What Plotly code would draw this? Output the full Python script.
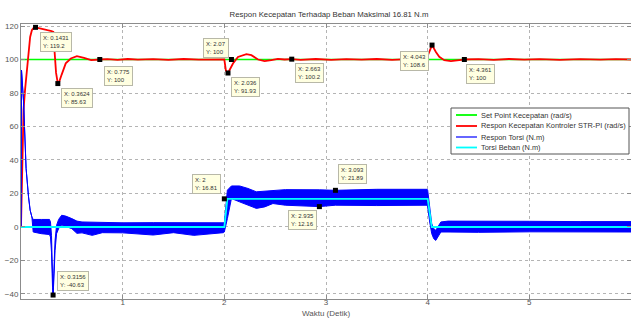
import plotly.graph_objects as go

# ---------------- data ----------------
setpoint_t = [0, 6]
setpoint_v = [100, 100]

speed_t = [0, 0.01, 0.025, 0.04, 0.058, 0.074, 0.09, 0.107, 0.125, 0.1431, 0.18, 0.22, 0.26,
           0.3, 0.318, 0.33, 0.345, 0.3624, 0.375, 0.4, 0.44, 0.49, 0.55, 0.62, 0.69, 0.775,
           0.85, 0.95, 1.05, 1.15, 1.3, 1.45, 1.6, 1.75, 1.9, 2.0,
           2.015, 2.036, 2.085, 2.134, 2.217, 2.266, 2.331, 2.396, 2.462, 2.527, 2.593, 2.663,
           2.75, 2.9, 3.05, 3.2, 3.35, 3.5, 3.65, 3.8, 3.985,
           4.015, 4.043, 4.081, 4.114, 4.163, 4.229, 4.31, 4.361,
           4.5, 4.65, 4.8, 4.95, 5.1, 5.3, 5.5, 5.7, 5.85, 6.0]
speed_v = [0, 35, 70, 82, 92, 103.6, 113.5, 117.5, 118.9, 119.2, 118.8, 118.0, 117.5,
           117.0, 116.5, 105, 92, 85.63, 86.5, 91, 97.7, 100.6, 102.0, 101.0, 99.6, 100,
           100.2, 99.8, 100.3, 99.9, 100.2, 99.8, 100.3, 99.9, 100.2, 100,
           93.5, 91.93, 97.6, 101.5, 103.2, 102.6, 100, 99, 99.6, 100.4, 100, 100.2,
           99.8, 100.3, 99.8, 100.2, 99.9, 100.3, 99.8, 100.2, 100,
           104, 108.6, 104.5, 101.6, 99.6, 99, 99.6, 100,
           100.2, 99.8, 100.3, 99.9, 100.2, 99.8, 100.2, 99.9, 100.2, 100]

torque_t = [0, 0.005, 0.025, 0.05, 0.074, 0.09, 0.107, 0.12, 0.2, 0.28, 0.29, 0.3, 0.31,
            0.3156, 0.322, 0.335, 0.35, 0.37, 0.4, 0.44, 0.5, 0.55, 0.6, 0.7, 0.8, 1.0, 1.3,
            1.5, 1.7, 1.99, 2.0, 2.03, 2.07, 2.15, 2.233, 2.315, 2.397, 2.478, 2.6, 2.935,
            3.093, 3.5, 3.995, 4.0, 4.02, 4.04, 4.06, 4.08, 4.1, 4.13, 4.2, 4.5, 5.0, 5.5, 6.0]
torque_upper = [0, 93.6, 75, 35, 18, 10, 6, 4.5, 4.5, 4.5, 3, -5, -28,
                -40.63, -28, -8, 1, 4.5, 7, 6.5, 5, 3.5, 3, 2.8, 2.6, 2.5, 2.6,
                2.5, 2.6, 2.5, 2.5, 22, 24.5, 24.5, 23, 21, 21.5, 22, 22.3, 22.2,
                21.89, 22.5, 22.5, 22, 10, 2, -1, -2, 0, 3, 3.5, 3.3, 3.4, 3.2, 3.2]
torque_lower = [0, 93.6, 75, 35, 18, 10, 6, -3, -4, -4.5, -6, -15, -36,
                -40.63, -33, -14, -4, -1, 1.2, 0.5, -1, -3.8, -3.5, -5, -3.4, -3.5, -4.8,
                -3.4, -5, -3.4, -3, 5, 17, 15, 13, 11.1, 12, 14, 13, 12.16,
                13, 12.8, 13, 12, 3, -4, -7, -8, -6, -3, -3, -3.2, -2.9, -3.1, -3]

load_t = [0, 2.0, 2.03, 4.0, 4.04, 6.0]
load_v = [0, 0, 16.81, 16.81, 0, 0]

tip_x = [0.1431, 0.3624, 0.775, 2.07, 2.036, 2.663, 4.043, 4.361, 0.3156, 2, 2.935, 3.093]
tip_y = [119.2, 85.63, 100, 100, 91.93, 100.2, 108.6, 100, -40.63, 16.81, 12.16, 21.89]

x_ticks = [1, 2, 3, 4, 5, 6]
y_ticks = [-40, -20, 0, 20, 40, 60, 80, 100, 120]

legend_names = ["Set Point Kecepatan (rad/s)",
                "Respon Kecepatan Kontroler STR-PI (rad/s)",
                "Respon Torsi (N.m)",
                "Torsi Beban (N.m)"]

# ---------------- styling (not data) ----------------
W, H = 631, 320
ML, MR, MT, MB = 21, 0, 24, 21
PW, PH = W - ML - MR, H - MT - MB


def px2x(px):
    return (px - ML) / PW


def px2y(py):
    return 1 - (py - MT) / PH


C_GREEN, C_RED, C_BLUE, C_CYAN = "#00ff00", "#ff0000", "#0000ff", "#00ffff"
legend_colors = [C_GREEN, C_RED, C_BLUE, C_CYAN]
legend_rows_px = [115, 126, 137, 147.5]

# (xanchor, yanchor, xshift, yshift) for each data tip box
tip_place = [("left", "top", 4, -5), ("left", "top", 3, -4), ("left", "top", 4, -6),
             ("right", "bottom", -2, 2), ("left", "top", 3, -4), ("left", "top", 3, -4),
             ("right", "top", -3, -6), ("left", "top", 2, -4), ("left", "bottom", 4, 4),
             ("right", "bottom", -3, 5), ("right", "top", -2, -3), ("left", "bottom", 3, 6)]

FONT = "Liberation Sans, Arial, sans-serif"

fig = go.Figure()
fig.add_trace(go.Scatter(x=setpoint_t, y=setpoint_v, mode="lines",
                         line=dict(color=C_GREEN, width=1.5), name=legend_names[0]))
fig.add_trace(go.Scatter(x=speed_t, y=speed_v, mode="lines",
                         line=dict(color=C_RED, width=1.8), name=legend_names[1]))
fig.add_trace(go.Scatter(x=torque_t, y=torque_upper, mode="lines",
                         line=dict(color=C_BLUE, width=1), name=legend_names[2]))
fig.add_trace(go.Scatter(x=torque_t, y=torque_lower, mode="lines",
                         line=dict(color=C_BLUE, width=1), fill="tonexty",
                         fillcolor=C_BLUE, name=legend_names[2]))
fig.add_trace(go.Scatter(x=load_t, y=load_v, mode="lines",
                         line=dict(color=C_CYAN, width=1.8), name=legend_names[3]))
fig.add_trace(go.Scatter(x=tip_x, y=tip_y, mode="markers",
                         marker=dict(symbol="square", size=5, color="black")))

annotations = []
for x, y, (xa, ya, xs, ys) in zip(tip_x, tip_y, tip_place):
    annotations.append(dict(
        x=x, y=y, xref="x", yref="y", showarrow=False,
        text=f"X: {x:g}<br>Y: {y:g}", align="left",
        font=dict(family=FONT, size=6, color="#333333"),
        bgcolor="#ffffe1", bordercolor="#b8b8a8", borderwidth=1, borderpad=2,
        xanchor=xa, yanchor=ya, xshift=xs, yshift=ys))

# legend drawn as a MATLAB-style box
shapes = [dict(type="rect", xref="paper", yref="paper",
               x0=px2x(451), x1=px2x(629), y0=px2y(154), y1=px2y(108),
               line=dict(color="#555555", width=1), fillcolor="white", layer="above")]
for name, col, ry in zip(legend_names, legend_colors, legend_rows_px):
    shapes.append(dict(type="line", xref="paper", yref="paper",
                       x0=px2x(456), x1=px2x(477), y0=px2y(ry), y1=px2y(ry),
                       line=dict(color=col, width=1.8 if col != C_BLUE else 1.2),
                       layer="above"))
    annotations.append(dict(x=px2x(479), y=px2y(ry), xref="paper", yref="paper",
                            text=name, showarrow=False, xanchor="left", yanchor="middle",
                            font=dict(family=FONT, size=7.4, color="#333333")))

# axis title as text below the tick labels
annotations.append(dict(x=0.5, y=px2y(313.5), xref="paper", yref="paper",
                        text="Waktu (Detik)", showarrow=False,
                        xanchor="center", yanchor="middle",
                        font=dict(family=FONT, size=8, color="#555555")))

axis_common = dict(showline=True, mirror="ticks", linecolor="#8c8c8c", linewidth=1,
                   showgrid=True, gridcolor="#b4b4b4", griddash="dot", gridwidth=1,
                   zeroline=False, ticks="inside", ticklen=4, tickcolor="#8c8c8c",
                   automargin=False,
                   tickfont=dict(family=FONT, size=8, color="#555555"))

fig.update_layout(
    template="none",
    width=W, height=H, autosize=False,
    margin=dict(l=ML, r=MR, t=MT, b=MB, pad=0),
    paper_bgcolor="white", plot_bgcolor="white",
    showlegend=False,
    title=dict(text="Respon Kecepatan Terhadap Beban Maksimal 16.81 N.m",
               xref="container", x=329 / W, xanchor="center",
               yref="container", y=1 - 14 / H, yanchor="middle",
               font=dict(family=FONT, size=7.8, color="#333333")),
    xaxis=dict(range=[0, 6], tickvals=x_ticks, ticklabelstandoff=-5, **axis_common),
    yaxis=dict(range=[-43, 121.2], tickvals=y_ticks, **axis_common),
    annotations=annotations,
    shapes=shapes,
)

fig.write_html(
    "out.html",
    config={"displayModeBar": False},
    post_script="document.body.style.margin='0px';document.body.style.overflow='hidden';",
)
